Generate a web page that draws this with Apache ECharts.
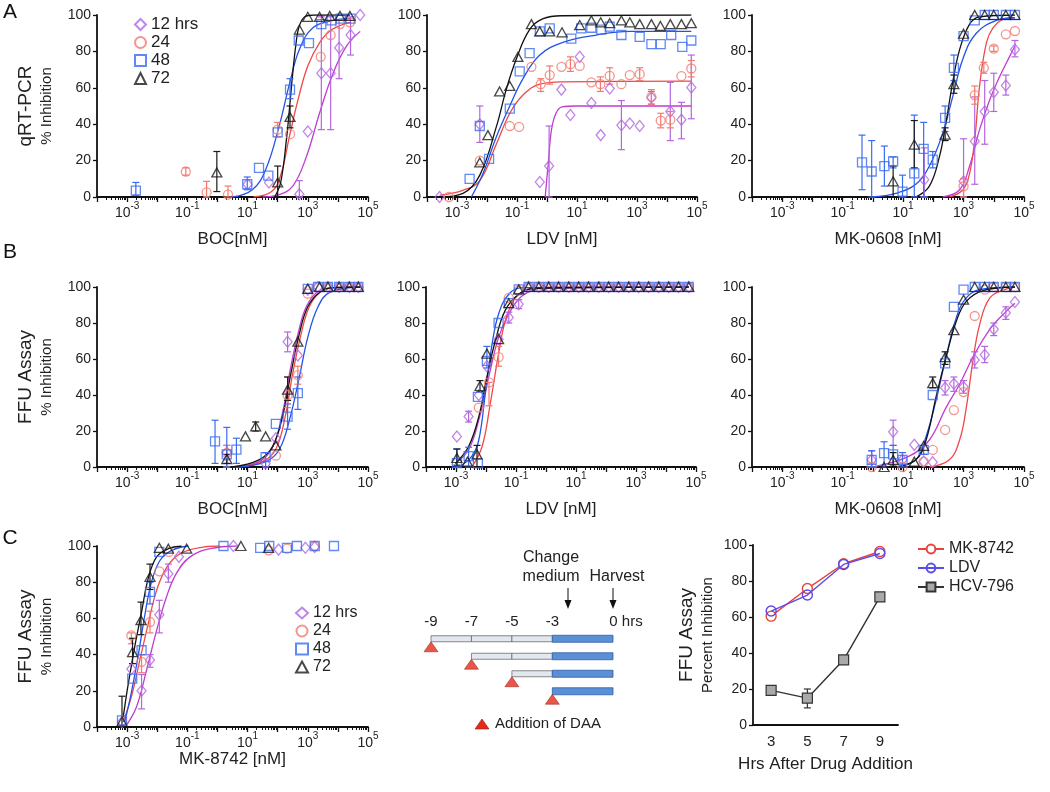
<!DOCTYPE html>
<html><head><meta charset="utf-8">
<script src="https://cdn.jsdelivr.net/npm/echarts@6/dist/echarts.min.js"></script>
<style>html,body{margin:0;padding:0;background:#fff}#c{width:1050px;height:792px}</style>
</head><body><div id="c"></div>
<script>
// ===== Series names / tick labels =====
const TIMES = ['12 hrs', '24', '48', '72'];
const C3_HRS = ['3', '5', '7', '9'];
const C3_NAMES = ['MK-8742', 'LDV', 'HCV-796'];
// x values below are read as log10(concentration in nM); converted to nM for the log axes

// ---- A1: qRT-PCR, BOC ----
const qBOC_12 = [[1.0,7],[1.71,8],[2.72,1.5],[3.0,36],[3.45,68],[3.76,68],[4.04,82],[4.42,89],[4.74,100]];
const qBOC_12_err = [[2.72,0,9],[3.45,37,99],[3.76,37,99],[4.04,65,97],[4.42,78,99]];
const qBOC_12_fit = [[1.5,0],[2.0,1],[2.5,6],[2.95,22],[3.39,46],[3.84,68],[4.29,83],[4.74,91]];
const qBOC_24 = [[-1.05,14],[-0.36,2.5],[0.35,1.3],[2.0,37],[2.41,34.5],[3.43,77],[3.76,89],[4.07,95],[4.4,96]];
const qBOC_24_err = [[-1.05,12,16],[-0.36,0,8.6],[0.35,0,6],[2.0,33,41]];
const qBOC_24_fit = [[1.2,0],[1.8,3],[2.1,12],[2.4,34],[2.7,55],[3.0,72],[3.4,85],[3.8,92],[4.4,96]];
const qBOC_48 = [[-2.71,3.5],[0.99,7],[1.38,16],[1.69,11.7],[2.0,35.5],[2.41,59],[2.7,86],[3.04,84.5],[3.45,95],[3.79,97],[4.09,98],[4.42,98]];
const qBOC_48_err = [[-2.71,1,8],[0.99,4,11],[2.41,54,65]];
const qBOC_48_fit = [[0.5,0],[1.16,4],[1.6,15],[2.05,39],[2.39,62],[2.72,81],[3.17,93],[3.84,97],[4.42,98]];
const qBOC_72 = [[-0.02,13.5],[2.0,8],[2.41,44],[2.72,92],[3.0,99],[3.39,99],[3.73,99.5],[4.07,99.5],[4.4,99.5]];
const qBOC_72_err = [[-0.02,3,25],[2.0,0,17],[2.41,38,50]];
const qBOC_72_fit = [[1.9,0],[2.1,8],[2.3,33],[2.4,50],[2.5,68],[2.6,83],[2.7,93],[2.9,99],[3.2,100],[4.4,100]];

// ---- A2: qRT-PCR, LDV ----
const qLDV_12 = [[-3.58,0],[-2.24,40],[-0.24,8.3],[0.07,17],[0.48,59],[0.78,45],[1.09,77],[1.48,51.7],[1.79,34],[2.09,59.6],[2.48,39.4],[2.76,40.4],[3.09,39],[3.48,54.7],[4.11,47],[4.48,42.5],[4.81,60.2]];
const qLDV_12_err = [[-2.24,30,50],[0.07,0,39],[2.48,26,53],[3.48,51,58],[4.11,31,63],[4.48,32,52],[4.81,43,78]];
const qLDV_12_fit = [[-0.06,0],[0.05,20],[0.15,37],[0.3,46],[0.5,49.5],[1.0,50],[4.81,50]];
const qLDV_24 = [[-3.27,0],[-2.24,20],[-1.24,39],[-0.93,38.5],[-0.52,71.5],[-0.21,62],[0.09,67],[0.48,71.5],[0.78,73],[1.09,72],[1.48,63],[1.78,62],[2.09,66.5],[2.48,62],[2.76,67],[3.09,67.5],[3.48,55],[3.79,42],[4.11,42.5],[4.48,66.4],[4.81,70.6]];
const qLDV_24_err = [[-0.21,58,65],[0.09,62,72],[0.78,69,77],[1.78,58,66],[2.09,62,71],[3.09,64,71],[3.48,51,59],[3.79,38,46],[4.11,38,47],[4.81,66,75]];
const qLDV_24_fit = [[-3.58,1],[-2.8,3.7],[-2.24,9],[-1.69,29],[-1.24,46],[-0.8,56],[-0.24,62],[0.53,63.3],[4.81,63.7]];
const qLDV_48 = [[-2.58,10],[-2.24,39],[-1.93,21],[-1.24,48.6],[-0.91,69],[-0.58,79],[-0.24,91],[0.09,92.7],[0.81,87],[1.14,92.7],[1.48,93],[1.81,92],[2.09,93.6],[2.48,89],[3.09,88],[3.48,84],[3.79,84],[4.14,89],[4.51,82.5],[4.81,86]];
const qLDV_48_err = [];
const qLDV_48_fit = [[-2.52,0],[-2.13,13],[-1.69,33],[-1.24,50],[-0.8,65],[-0.24,78],[0.53,85],[1.64,89],[2.76,91],[4.81,91]];
const qLDV_72 = [[-2.24,19],[-1.97,34],[-1.58,58],[-1.24,61],[-0.97,77],[-0.52,95],[-0.24,91],[0.09,91],[0.5,90.5],[1.09,94.5],[1.48,97],[1.79,96],[2.09,95.5],[2.48,97],[2.76,96],[3.09,95],[3.48,95],[3.78,94],[4.11,95],[4.48,95],[4.81,95.5]];
const qLDV_72_err = [];
const qLDV_72_fit = [[-3.58,0],[-2.8,2],[-2.24,12],[-1.69,38.5],[-1.36,59],[-1.02,76],[-0.58,92],[-0.13,98],[0.53,99.6],[4.81,100]];

// ---- A3: qRT-PCR, MK-0608 ----
const qMK_12 = [[1.7,9.5],[3.0,8.6],[3.37,30.6],[3.7,47],[4.0,57.6],[4.4,61.3],[4.7,81]];
const qMK_12_err = [[1.7,0,27],[3.0,0,32],[3.37,7,55],[3.7,29,64],[4.0,47,68],[4.4,56,67],[4.7,77,86]];
const qMK_12_fit = [[2.31,0],[2.87,4],[3.2,17],[3.53,37],[3.87,53.6],[4.2,66.4],[4.53,77.4],[4.7,83]];
const qMK_24 = [[3.0,5.9],[3.37,56],[3.67,71],[4.0,81.5],[4.4,89.4],[4.7,91.2]];
const qMK_24_err = [[3.0,0,10],[3.37,51,61],[3.67,68,74],[4.0,80,83]];
const qMK_24_fit = [[2.53,0],[2.98,4],[3.2,13],[3.37,31.6],[3.53,61],[3.76,85],[3.98,93],[4.31,97.6],[4.7,98.5]];
const qMK_48 = [[-0.36,19],[-0.04,14],[0.38,17],[0.67,19.6],[0.98,3],[1.37,13],[1.68,26.4],[1.98,20.5],[2.39,43.5],[2.68,71],[3.0,88.4],[3.37,97],[3.7,100],[4.0,100],[4.4,100],[4.7,100]];
const qMK_48_err = [[-0.36,4,34],[-0.04,0,31],[0.38,6,28],[0.67,16,22],[0.98,0,12],[1.37,0,45],[1.68,0,41],[1.98,16,25],[2.39,36,50],[2.68,64,78]];
const qMK_48_fit = [[-0.02,0],[0.76,2],[1.42,7],[1.87,17],[2.31,35],[2.64,55],[2.98,76],[3.42,90],[4.09,97],[4.7,98.5]];
const qMK_72 = [[0.67,8.6],[1.37,28.8],[2.39,34.3],[2.68,62],[3.0,89.7],[3.37,100],[3.7,100],[4.0,100],[4.4,100],[4.7,100]];
const qMK_72_err = [[0.67,0,17],[1.37,16,42],[2.39,31,38],[2.68,57,67]];
const qMK_72_fit = [[1.42,0],[1.87,6],[2.2,22],[2.42,41],[2.64,63],[2.87,81],[3.2,95],[3.53,99],[4.7,100]];

// ---- B1: FFU, BOC ----
const fBOC_12 = [[0.31,8.1],[1.6,1.8],[1.94,16],[2.33,69.6],[2.67,62],[3.0,98.5],[3.34,100],[3.67,100],[4.04,100],[4.38,100],[4.68,100]];
const fBOC_12_err = [[0.31,4,12],[2.33,64,75]];
const fBOC_12_fit = [[0.5,0],[1.38,3],[1.83,11],[2.16,30],[2.44,56],[2.72,77],[2.95,89],[3.3,97],[3.8,99.6],[4.74,100]];
const fBOC_24 = [[0.31,7.7],[1.94,6.3],[2.33,40],[2.67,51],[3.0,96.3],[3.34,100],[3.67,100],[4.04,100],[4.38,100],[4.68,100]];
const fBOC_24_err = [[0.31,0,12],[2.33,33,50],[2.67,46,56]];
const fBOC_24_fit = [[0.6,0],[1.5,3],[1.94,10],[2.25,28],[2.5,52],[2.78,74],[3.05,89],[3.4,97],[3.9,99.6],[4.74,100]];
const fBOC_48 = [[-0.08,14.2],[0.31,7],[0.63,9.6],[1.6,5.5],[1.94,24],[2.33,28],[2.67,41],[3.0,99],[3.34,100],[3.67,100],[4.04,100],[4.38,100],[4.68,100]];
const fBOC_48_err = [[-0.08,2,26],[0.31,0,22],[0.63,2,16],[1.6,0,8],[2.33,21,35],[2.67,32,50]];
const fBOC_48_fit = [[0.7,0],[1.6,3],[2.05,9.6],[2.39,26],[2.72,50],[3.0,72],[3.34,89],[3.73,97],[4.74,100]];
const fBOC_72 = [[0.31,4.4],[0.93,17],[1.27,22.5],[1.6,17],[1.94,12],[2.33,43],[2.67,69.6],[3.0,99],[3.39,100],[3.67,100],[4.04,100],[4.38,100],[4.68,100]];
const fBOC_72_err = [[0.31,2,7],[1.27,20,25],[2.33,37,50]];
const fBOC_72_fit = [[0.48,0],[1.38,4],[1.83,11.4],[2.16,28],[2.44,52],[2.72,74],[3.0,89],[3.39,97],[3.84,99.6],[4.74,100]];

// ---- B2: FFU, LDV ----
const fLDV_12 = [[-2.97,17],[-2.58,28],[-2.24,40],[-1.97,56],[-1.58,71],[-1.24,83],[-0.91,90.4],[-0.58,100],[-0.24,100],[0.09,100],[0.42,100],[0.76,100],[1.09,100],[1.42,100],[1.76,100],[2.09,100],[2.42,100],[2.76,100],[3.09,100],[3.42,100],[3.76,100],[4.09,100],[4.42,100],[4.76,100]];
const fLDV_12_err = [[-2.58,25,31],[-1.24,80,86],[-0.91,88,93]];
const fLDV_12_fit = [[-3.02,2],[-2.58,9.6],[-2.24,26],[-1.91,50],[-1.58,72],[-1.24,85],[-0.8,95],[-0.13,99.3],[4.76,100]];
const fLDV_24 = [[-2.24,33],[-1.9,47],[-1.58,61],[-1.24,94],[-0.91,98],[-0.58,100],[-0.24,100],[0.09,100],[0.42,100],[0.76,100],[1.09,100],[1.42,100],[1.76,100],[2.09,100],[2.42,100],[2.76,100],[3.09,100],[3.42,100],[3.76,100],[4.09,100],[4.42,100],[4.76,100]];
const fLDV_24_err = [[-1.9,34,47],[-1.58,56,67]];
const fLDV_24_fit = [[-2.47,0],[-2.13,11.4],[-1.86,35],[-1.58,63],[-1.36,81],[-1.02,94],[-0.58,98.7],[0.2,100],[4.76,100]];
const fLDV_48 = [[-2.97,2.2],[-2.58,6],[-2.27,2],[-2.27,39],[-1.97,59],[-1.58,80],[-1.24,91],[-0.91,98.7],[-0.58,100],[-0.24,100],[0.09,100],[0.42,100],[0.76,100],[1.09,100],[1.42,100],[1.76,100],[2.09,100],[2.42,100],[2.76,100],[3.09,100],[3.42,100],[3.76,100],[4.09,100],[4.42,100],[4.76,100]];
const fLDV_48_err = [[-2.97,0,10],[-2.58,0,11],[-1.97,55,67]];
const fLDV_48_fit = [[-2.9,0],[-2.47,6],[-2.24,15],[-2.02,41],[-1.8,68],[-1.58,85],[-1.24,96],[-0.8,99.6],[4.76,100]];
const fLDV_72 = [[-2.97,5],[-2.62,3],[-2.3,7],[-2.2,45],[-1.97,63],[-1.58,71],[-1.24,91],[-0.91,98.7],[-0.58,100],[-0.24,100],[0.09,100],[0.42,100],[0.76,100],[1.09,100],[1.42,100],[1.76,100],[2.09,100],[2.42,100],[2.76,100],[3.09,100],[3.42,100],[3.76,100],[4.09,100],[4.42,100],[4.76,100]];
const fLDV_72_err = [[-2.97,1,10],[-2.3,0,12],[-2.2,42,48]];
const fLDV_72_fit = [[-3.02,2],[-2.58,11.4],[-2.24,28],[-1.97,50],[-1.69,70],[-1.36,87],[-0.91,96],[-0.36,99.3],[4.76,100]];

// ---- B3: FFU, MK-0608 ----
const fMK_12 = [[-0.04,4],[0.67,19.6],[0.98,4],[1.37,12.3],[1.68,3],[1.98,2.7],[2.39,44],[2.68,46.2],[3.0,44.4],[3.37,59.4],[3.7,62.4],[4.0,76.5],[4.4,85.7],[4.7,91.7]];
const fMK_12_err = [[-0.04,0,9],[0.67,12,26],[2.39,40,48],[2.68,42,50],[3.0,41,48],[3.37,55,64],[3.7,58,67],[4.0,73,80],[4.4,82,89]];
const fMK_12_fit = [[0.09,0.4],[1.2,6],[1.87,15],[2.42,33],[2.87,46],[3.31,61],[3.87,76.5],[4.42,86.6],[4.7,91]];
const fMK_24 = [[-0.04,0],[0.98,0],[1.68,3],[1.98,9.5],[2.39,20.6],[2.68,31.6],[3.0,41.6],[3.37,83.9],[3.7,98.5],[4.0,100],[4.4,100],[4.7,100]];
const fMK_24_err = [];
const fMK_24_fit = [[1.87,0],[2.53,4],[2.87,15],[3.09,33],[3.31,59],[3.53,79],[3.87,94],[4.42,99],[4.7,100]];
const fMK_48 = [[-0.04,4],[0.37,7.7],[0.67,7],[0.98,4],[1.68,9.5],[1.98,40],[2.39,57.6],[2.68,89],[3.0,98.5],[3.37,100],[3.7,100],[4.0,100],[4.4,100],[4.7,100]];
const fMK_48_err = [[-0.04,0,9],[0.37,0,14],[0.67,1,12],[0.98,0,8],[1.68,7,12]];
const fMK_48_fit = [[0.76,0],[1.42,4],[1.76,17],[2.09,37],[2.42,61],[2.76,83],[3.09,94],[3.53,98.5],[4.7,100]];
const fMK_72 = [[0.37,0],[0.67,4],[1.37,3],[1.68,11.7],[1.98,46.6],[2.39,61],[2.68,76],[3.0,93],[3.37,100],[3.7,100],[4.0,100],[4.4,100],[4.7,100]];
const fMK_72_err = [[0.67,0,8],[1.98,44,50],[2.39,57,64]];
const fMK_72_fit = [[0.76,0],[1.42,4],[1.76,15],[2.09,39],[2.42,61],[2.76,81],[3.09,92],[3.64,98],[4.7,100]];

// ---- C1: FFU, MK-8742 ----
const fMK8_12 = [[-3.17,2.8],[-2.86,32],[-2.52,20],[-2.24,37],[-1.93,62],[-1.63,84.7],[-1.28,94],[0.53,100],[2.03,98],[2.92,99],[3.23,99.5]];
const fMK8_12_err = [[-2.52,10,29],[-2.24,33,40],[-1.93,52,70],[-1.63,80,90]];
const fMK8_12_fit = [[-3.02,1],[-2.69,11],[-2.36,31],[-2.02,53.4],[-1.69,72],[-1.36,85],[-0.91,94],[-0.24,98.5],[0.64,100]];
const fMK8_24 = [[-2.86,50.6],[-2.52,36],[-2.24,58],[-1.93,86],[-1.61,96.7],[1.7,97.6],[2.31,98.5],[3.23,100]];
const fMK8_24_err = [[-2.86,46,52],[-2.52,30,40],[-2.24,52,64]];
const fMK8_24_fit = [[-3.13,2.8],[-2.86,16.6],[-2.58,36.8],[-2.3,57],[-2.02,75.5],[-1.69,88],[-1.24,95.8],[-0.47,99.4],[0.09,100]];
const fMK8_48 = [[-3.17,3.7],[-2.83,26.7],[-2.52,42.4],[-2.24,74.6],[-1.93,96.7],[0.2,100],[1.42,99],[1.72,100],[2.31,99],[2.64,100],[3.23,100],[3.87,100]];
const fMK8_48_err = [[-2.24,68,80]];
const fMK8_48_fit = [[-3.08,2.8],[-2.86,19],[-2.63,39.6],[-2.41,62],[-2.19,80],[-1.91,92],[-1.52,97.6],[-0.97,100]];
const fMK8_72 = [[-3.17,3],[-2.82,41.4],[-2.54,59],[-2.24,83],[-1.93,99],[-1.63,98.5],[-1.02,98.5],[0.78,100],[1.7,99]];
const fMK8_72_err = [[-3.17,0,17],[-2.82,35,49],[-2.54,51,69],[-2.24,76,90]];
const fMK8_72_fit = [[-3.13,5.5],[-2.97,23],[-2.74,45],[-2.52,63.5],[-2.3,82],[-2.02,94],[-1.63,98.5],[-1.19,100]];

// ---- C3: time of addition ----
const c3_mk8742 = [60.5, 75.8, 89.6, 96.4];
const c3_ldv = [63.3, 72.2, 89.2, 95.3];
const c3_hcv796 = [19.2, 14.9, 36.2, 71.2];
const c3_hcv796_err = [[1, 9.5, 20]];

// ---- Schematic ----
const additionHrs = [-9, -7, -5, -3];
const scheduleMarks = [-9, -7, -5, -3];
const mediumChangeHr = -3;
const harvestHr = 0;
const timelineLabels = [-9, -7, -5, -3, 0];

// ===== Styling =====
const FONT = 'Liberation Sans';
const MARK = ['#b266e0', '#f27a70', '#3a6cf0', '#1a1a1a'];
const FITC = ['#c23bd0', '#f04848', '#2452e8', '#111111'];
const SYM = ['diamond', 'circle', 'rect', 'triangle'];
const SIZE = [[9, 11], 9, 9, [10, 9]];
const SUP = {
  b: {fontSize: 14, lineHeight: 19, verticalAlign: 'bottom', color: '#222'},
  s: {fontSize: 10, lineHeight: 19, verticalAlign: 'top', color: '#222'}
};
const expLabel = v => { const e = Math.round(Math.log10(v)); return (Math.abs(e) % 2 === 1) ? '{b|10}{s|' + e + '}' : ''; };
const YNAME_RICH = {a: {fontSize: 19, color: '#222', lineHeight: 24}, b: {fontSize: 15, color: '#222', lineHeight: 18}};
// log10(nM) -> nM
const toNM = arr => arr.map(p => [Math.pow(10, p[0])].concat(p.slice(1)));

function errRender(color) {
  return function (params, api) {
    const x = api.value(0), lo = api.value(1), hi = api.value(2);
    const p1 = api.coord([x, hi]), p2 = api.coord([x, lo]);
    const w = 3.5, st = {stroke: color, lineWidth: 1.2};
    return {type: 'group', children: [
      {type: 'line', shape: {x1: p1[0], y1: p1[1], x2: p2[0], y2: p2[1]}, style: st},
      {type: 'line', shape: {x1: p1[0] - w, y1: p1[1], x2: p1[0] + w, y2: p1[1]}, style: st},
      {type: 'line', shape: {x1: p2[0] - w, y1: p2[1], x2: p2[0] + w, y2: p2[1]}, style: st}
    ]};
  };
}

const grids = [], xAxes = [], yAxes = [], series = [];
function addLogPanel(g, sets) {
  const gi = grids.length;
  grids.push({left: g.left, top: g.top, width: g.width, height: g.height});
  xAxes.push({
    gridIndex: gi, type: 'log', logBase: 10, min: 1e-4, max: 1e5, splitNumber: 9,
    name: g.xname, nameLocation: 'middle', nameGap: g.xgap,
    nameTextStyle: {fontSize: 17, color: '#222', fontFamily: FONT},
    axisLine: {onZero: false, lineStyle: {color: '#111', width: 1.8}},
    axisTick: {length: 5, lineStyle: {color: '#111', width: 1.3}},
    minorTick: {show: true, splitNumber: 9, length: 3, lineStyle: {color: '#111', width: 1}},
    axisLabel: {margin: 4, formatter: expLabel, rich: SUP},
    splitLine: {show: false}, minorSplitLine: {show: false}
  });
  yAxes.push({
    gridIndex: gi, type: 'value', min: 0, max: 100, interval: 20, position: 'left',
    name: g.yname ? '{a|' + g.yname[0] + '}\n{b|' + g.yname[1] + '}' : '',
    nameLocation: 'middle', nameRotate: 90, nameGap: 41,
    nameTextStyle: {rich: YNAME_RICH, align: 'center'},
    axisLine: {show: true, onZero: false, lineStyle: {color: '#111', width: 1.8}},
    axisTick: {show: true, length: 4, lineStyle: {color: '#111', width: 1.3}},
    axisLabel: {fontSize: 14, color: '#222', margin: 6},
    splitLine: {show: false}
  });
  sets.forEach((s, i) => {
    series.push({type: 'line', name: TIMES[i] + ' fit', xAxisIndex: gi, yAxisIndex: gi, data: toNM(s[2]),
      smooth: 0.4, showSymbol: false, silent: true, z: 2,
      lineStyle: {color: FITC[i], width: 1.3}});
    if (s[1].length) series.push({type: 'custom', name: TIMES[i] + ' err', xAxisIndex: gi, yAxisIndex: gi,
      data: toNM(s[1]), encode: {x: 0, y: [1, 2]}, renderItem: errRender(MARK[i]), silent: true, z: 3});
    series.push({type: 'scatter', name: TIMES[i], xAxisIndex: gi, yAxisIndex: gi, data: toNM(s[0]),
      symbol: SYM[i], symbolSize: SIZE[i], clip: false, z: 4,
      itemStyle: {color: 'rgba(255,255,255,0)', borderColor: MARK[i], borderWidth: 1.3}});
  });
}

addLogPanel({left: 97, top: 15, width: 271, height: 182, xname: 'BOC[nM]', xgap: 34, yname: ['qRT-PCR', '% Inhibition']},
  [[qBOC_12, qBOC_12_err, qBOC_12_fit], [qBOC_24, qBOC_24_err, qBOC_24_fit], [qBOC_48, qBOC_48_err, qBOC_48_fit], [qBOC_72, qBOC_72_err, qBOC_72_fit]]);
addLogPanel({left: 427, top: 15, width: 270, height: 182, xname: 'LDV [nM]', xgap: 34},
  [[qLDV_12, qLDV_12_err, qLDV_12_fit], [qLDV_24, qLDV_24_err, qLDV_24_fit], [qLDV_48, qLDV_48_err, qLDV_48_fit], [qLDV_72, qLDV_72_err, qLDV_72_fit]]);
addLogPanel({left: 752, top: 15, width: 272, height: 182, xname: 'MK-0608 [nM]', xgap: 34},
  [[qMK_12, qMK_12_err, qMK_12_fit], [qMK_24, qMK_24_err, qMK_24_fit], [qMK_48, qMK_48_err, qMK_48_fit], [qMK_72, qMK_72_err, qMK_72_fit]]);
addLogPanel({left: 97, top: 287, width: 271, height: 180, xname: 'BOC[nM]', xgap: 34, yname: ['FFU Assay', '% Inhibition']},
  [[fBOC_12, fBOC_12_err, fBOC_12_fit], [fBOC_24, fBOC_24_err, fBOC_24_fit], [fBOC_48, fBOC_48_err, fBOC_48_fit], [fBOC_72, fBOC_72_err, fBOC_72_fit]]);
addLogPanel({left: 426, top: 287, width: 270, height: 180, xname: 'LDV [nM]', xgap: 34},
  [[fLDV_12, fLDV_12_err, fLDV_12_fit], [fLDV_24, fLDV_24_err, fLDV_24_fit], [fLDV_48, fLDV_48_err, fLDV_48_fit], [fLDV_72, fLDV_72_err, fLDV_72_fit]]);
addLogPanel({left: 752, top: 287, width: 272, height: 180, xname: 'MK-0608 [nM]', xgap: 34},
  [[fMK_12, fMK_12_err, fMK_12_fit], [fMK_24, fMK_24_err, fMK_24_fit], [fMK_48, fMK_48_err, fMK_48_fit], [fMK_72, fMK_72_err, fMK_72_fit]]);
addLogPanel({left: 97, top: 546, width: 271, height: 181, xname: 'MK-8742 [nM]', xgap: 24, yname: ['FFU Assay', '% Inhibition']},
  [[fMK8_12, fMK8_12_err, fMK8_12_fit], [fMK8_24, fMK8_24_err, fMK8_24_fit], [fMK8_48, fMK8_48_err, fMK8_48_fit], [fMK8_72, fMK8_72_err, fMK8_72_fit]]);

// ---- Schematic grid ----
const gS = grids.length;
grids.push({left: 431, top: 630, width: 182, height: 70});
xAxes.push({gridIndex: gS, type: 'value', min: -9, max: 0, interval: 1, position: 'top',
  axisLine: {show: false, onZero: false}, axisTick: {show: false}, splitLine: {show: false},
  axisLabel: {margin: 1, fontSize: 15, color: '#222',
    formatter: v => timelineLabels.indexOf(v) < 0 ? '' : (v === 0 ? '{p| }{z|0}{h| hrs}' : String(v)),
    rich: {p: {width: 26, fontSize: 15}, z: {fontSize: 15, color: '#222'}, h: {fontSize: 15, color: '#222'}}}});
yAxes.push({gridIndex: gS, type: 'value', min: -0.5, max: 3.5, inverse: true, show: false});
const segs = [];
additionHrs.forEach((s, r) => {
  for (let k = 0; k < scheduleMarks.length - 1; k++) {
    const a = scheduleMarks[k], b = scheduleMarks[k + 1];
    if (a >= s && b <= mediumChangeHr) segs.push([a, b, r, 0]);
  }
  segs.push([mediumChangeHr, harvestHr, r, 1]);
});
series.push({type: 'custom', name: 'schedule', xAxisIndex: gS, yAxisIndex: gS, data: segs, encode: {x: [0, 1], y: 2}, silent: true,
  renderItem: (params, api) => {
    const a = api.coord([api.value(0), api.value(2)]);
    const b = api.coord([api.value(1), api.value(2)]);
    const blue = api.value(3) === 1;
    const h = blue ? 7 : 6;
    return {type: 'rect', shape: {x: a[0], y: a[1] - h / 2, width: b[0] - a[0], height: h},
      style: {fill: blue ? '#5b8fd6' : '#e3e8ef', stroke: blue ? '#2f5ea5' : '#6b6b6b', lineWidth: 0.8}};
  }});
series.push({type: 'scatter', name: 'Addition of DAA', xAxisIndex: gS, yAxisIndex: gS,
  data: additionHrs.map((s, r) => [s, r]), symbol: 'triangle', symbolSize: [14, 10], symbolOffset: [0, 8], clip: false, silent: true,
  itemStyle: {color: '#e42b1a', borderColor: '#8a1b10', borderWidth: 0.6}, z: 5});

// ---- C3 ----
const gC = grids.length;
grids.push({left: 753, top: 545, width: 145, height: 180});
xAxes.push({gridIndex: gC, type: 'category', data: C3_HRS, boundaryGap: true,
  name: 'Hrs After Drug Addition', nameLocation: 'middle', nameGap: 31, nameTextStyle: {fontSize: 17, color: '#222'},
  axisLine: {lineStyle: {color: '#111', width: 1.8}}, axisTick: {alignWithLabel: true, length: 5, lineStyle: {color: '#111', width: 1.3}},
  axisLabel: {fontSize: 15, color: '#222', margin: 9}});
yAxes.push({gridIndex: gC, type: 'value', min: 0, max: 100, interval: 20,
  name: '{a|FFU Assay}\n{b|Percent Inhibition}', nameLocation: 'middle', nameRotate: 90, nameGap: 36,
  nameTextStyle: {rich: YNAME_RICH, align: 'center'},
  axisLine: {show: true, onZero: false, lineStyle: {color: '#111', width: 1.8}}, axisTick: {show: true, length: 4, lineStyle: {color: '#111', width: 1.3}},
  axisLabel: {fontSize: 14, color: '#222', margin: 6}, splitLine: {show: false}});
const C3_COL = ['#e8433a', '#5a4ce6', '#333333'];
series.push({type: 'line', name: C3_NAMES[0], xAxisIndex: gC, yAxisIndex: gC, data: c3_mk8742, symbol: 'circle', symbolSize: 10,
  lineStyle: {color: C3_COL[0], width: 1.4}, itemStyle: {color: '#fff', borderColor: C3_COL[0], borderWidth: 1.4}, z: 3});
series.push({type: 'line', name: C3_NAMES[1], xAxisIndex: gC, yAxisIndex: gC, data: c3_ldv, symbol: 'circle', symbolSize: 10,
  lineStyle: {color: C3_COL[1], width: 1.4}, itemStyle: {color: 'rgba(255,255,255,0)', borderColor: C3_COL[1], borderWidth: 1.4}, z: 4});
series.push({type: 'custom', name: 'hcv err', xAxisIndex: gC, yAxisIndex: gC, data: c3_hcv796_err, encode: {x: 0, y: [1, 2]},
  renderItem: errRender('#333'), silent: true, z: 2});
series.push({type: 'line', name: C3_NAMES[2], xAxisIndex: gC, yAxisIndex: gC, data: c3_hcv796, symbol: 'rect', symbolSize: 10,
  lineStyle: {color: C3_COL[2], width: 1.4}, itemStyle: {color: '#a9a9a9', borderColor: '#333', borderWidth: 1.2}, z: 3});

const chart = echarts.init(document.getElementById('c'), null, {renderer: 'canvas'});
chart.setOption({
  animation: false,
  backgroundColor: '#fff',
  textStyle: {fontFamily: FONT},
  grid: grids, xAxis: xAxes, yAxis: yAxes, series: series,
  legend: [
    {data: TIMES, orient: 'vertical', left: 129, top: 11, itemWidth: 11, itemHeight: 11, itemGap: 1, selectedMode: false,
      textStyle: {fontSize: 17, color: '#222'}},
    {data: TIMES, orient: 'vertical', left: 290, top: 600, itemWidth: 12, itemHeight: 11, itemGap: 2, selectedMode: false,
      textStyle: {fontSize: 16, color: '#222'}},
    {data: C3_NAMES, orient: 'vertical', left: 912, top: 536, itemWidth: 26, itemHeight: 11, itemGap: 3, selectedMode: false,
      textStyle: {fontSize: 16, color: '#222'}}
  ],
  graphic: [
    {type: 'text', x: 10, y: 12, style: {text: 'A', fontSize: 21, fill: '#111', align: 'center', verticalAlign: 'middle', fontFamily: FONT}},
    {type: 'text', x: 10, y: 252, style: {text: 'B', fontSize: 21, fill: '#111', align: 'center', verticalAlign: 'middle', fontFamily: FONT}},
    {type: 'text', x: 10, y: 538, style: {text: 'C', fontSize: 21, fill: '#111', align: 'center', verticalAlign: 'middle', fontFamily: FONT}},
    {type: 'text', x: 551, y: 567, style: {text: 'Change\nmedium', fontSize: 16, lineHeight: 19, fill: '#222', align: 'center', verticalAlign: 'middle', fontFamily: FONT}},
    {type: 'text', x: 617, y: 577, style: {text: 'Harvest', fontSize: 16, fill: '#222', align: 'center', verticalAlign: 'middle', fontFamily: FONT}},
    {type: 'line', shape: {x1: 568, y1: 588, x2: 568, y2: 606}, style: {stroke: '#111', lineWidth: 1}},
    {type: 'polygon', shape: {points: [[564.5, 600], [571.5, 600], [568, 609]]}, style: {fill: '#111'}},
    {type: 'line', shape: {x1: 613, y1: 588, x2: 613, y2: 606}, style: {stroke: '#111', lineWidth: 1}},
    {type: 'polygon', shape: {points: [[609.5, 600], [616.5, 600], [613, 609]]}, style: {fill: '#111'}},
    {type: 'polygon', shape: {points: [[475, 729], [489, 729], [482, 719]]}, style: {fill: '#e42b1a', stroke: '#8a1b10', lineWidth: 0.6}},
    {type: 'text', x: 495, y: 724, style: {text: 'Addition of DAA', fontSize: 15, fill: '#222', align: 'left', verticalAlign: 'middle', fontFamily: FONT}}
  ]
});
</script></body></html>
